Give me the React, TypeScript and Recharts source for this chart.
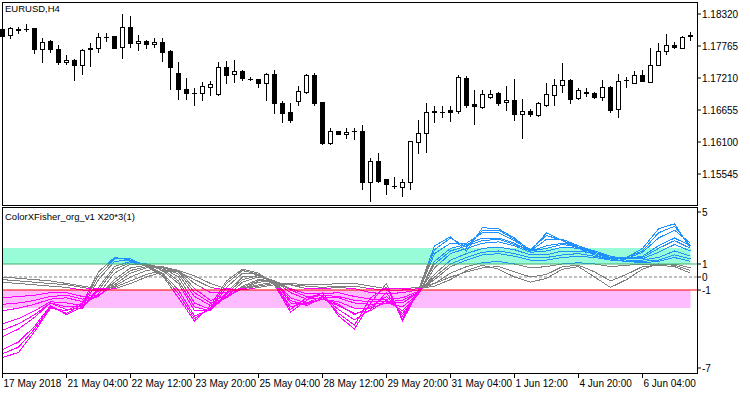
import { ComposedChart, LineChart, Bar, Line, XAxis, YAxis, ReferenceLine, ReferenceArea } from 'recharts';

// EURUSD H4 candles
const opens = [
  1.18060, 1.17956, 1.18051, 1.18060, 1.18077, 1.17713, 1.17852, 1.17713, 1.17488, 1.17522,
  1.17436, 1.17713, 1.17730, 1.17921, 1.17939, 1.17748, 1.18095, 1.17817, 1.17852, 1.17800,
  1.17835, 1.17678, 1.17297, 1.17020, 1.16950, 1.16950, 1.17054, 1.16933, 1.17401, 1.17280,
  1.17332, 1.17201, 1.17193, 1.17124, 1.17280, 1.16777, 1.16621, 1.16812, 1.16968, 1.17262,
  1.16794, 1.16083, 1.16291, 1.16240, 1.16291, 1.16291, 1.15407, 1.15771, 1.15459, 1.15338,
  1.15320, 1.15407, 1.16101, 1.16257, 1.16621, 1.16621, 1.16656, 1.16638, 1.17210, 1.16760,
  1.16708, 1.16881, 1.16950, 1.16794, 1.16829, 1.16586, 1.16638, 1.16569, 1.16742, 1.16916,
  1.17089, 1.17176, 1.16864, 1.16968, 1.16950, 1.16881, 1.17054, 1.16673, 1.17176, 1.17124,
  1.17262, 1.17141, 1.17436, 1.17678, 1.17783, 1.17730, 1.17939,
];
const highs = [
  1.18077, 1.18095, 1.18095, 1.18147, 1.18080, 1.17904, 1.17869, 1.17783, 1.17609, 1.17540,
  1.17713, 1.17817, 1.17991, 1.17991, 1.17945, 1.18320, 1.18285, 1.17956, 1.17869, 1.17904,
  1.17904, 1.17696, 1.17488, 1.17210, 1.17037, 1.17141, 1.17158, 1.17488, 1.17505, 1.17522,
  1.17349, 1.17227, 1.17200, 1.17297, 1.17349, 1.16812, 1.16777, 1.17072, 1.17280, 1.17297,
  1.16800, 1.16344, 1.16295, 1.16344, 1.16344, 1.16396, 1.15823, 1.15910, 1.15465, 1.15494,
  1.15459, 1.16125, 1.16482, 1.16777, 1.16725, 1.16725, 1.16725, 1.17262, 1.17245, 1.17002,
  1.17002, 1.17002, 1.16968, 1.17072, 1.17193, 1.16846, 1.16673, 1.16794, 1.17124, 1.17193,
  1.17470, 1.17193, 1.17037, 1.17037, 1.16968, 1.17176, 1.17072, 1.17280, 1.17227, 1.17332,
  1.17349, 1.17730, 1.17817, 1.17974, 1.17835, 1.17939, 1.18008,
];
const lows = [
  1.17921, 1.17904, 1.17991, 1.18025, 1.17644, 1.17488, 1.17661, 1.17453, 1.17453, 1.17176,
  1.17280, 1.17418, 1.17661, 1.17852, 1.17725, 1.17557, 1.17748, 1.17696, 1.17730, 1.17748,
  1.17505, 1.17020, 1.16846, 1.16846, 1.16742, 1.16829, 1.16916, 1.16916, 1.17124, 1.17141,
  1.17176, 1.17176, 1.17054, 1.16829, 1.16604, 1.16448, 1.16448, 1.16742, 1.16950, 1.16742,
  1.16066, 1.16066, 1.16235, 1.16170, 1.16153, 1.15286, 1.15077, 1.15407, 1.15199, 1.15303,
  1.15164, 1.15286, 1.15910, 1.15927, 1.16448, 1.16534, 1.16465, 1.16604, 1.16708, 1.16413,
  1.16690, 1.16864, 1.16742, 1.16656, 1.16482, 1.16170, 1.16552, 1.16552, 1.16725, 1.16742,
  1.16968, 1.16777, 1.16846, 1.16898, 1.16864, 1.16829, 1.16621, 1.16534, 1.17054, 1.17124,
  1.17158, 1.17141, 1.17436, 1.17626, 1.17730, 1.17730, 1.17869,
];
const closes = [
  1.17939, 1.18077, 1.18060, 1.18055, 1.17713, 1.17835, 1.17713, 1.17488, 1.17522, 1.17436,
  1.17696, 1.17730, 1.17921, 1.17913, 1.17730, 1.18095, 1.17817, 1.17852, 1.17800, 1.17835,
  1.17661, 1.17401, 1.17020, 1.16950, 1.16942, 1.17072, 1.17106, 1.17401, 1.17262, 1.17332,
  1.17210, 1.17193, 1.17124, 1.17280, 1.16777, 1.16604, 1.16482, 1.16985, 1.17262, 1.16777,
  1.16083, 1.16291, 1.16240, 1.16274, 1.16283, 1.15407, 1.15771, 1.15424, 1.15372, 1.15329,
  1.15407, 1.16118, 1.16257, 1.16621, 1.16630, 1.16615, 1.16621, 1.17227, 1.16742, 1.16725,
  1.16933, 1.16933, 1.16777, 1.16829, 1.16586, 1.16638, 1.16586, 1.16777, 1.16933, 1.17089,
  1.17176, 1.16846, 1.17002, 1.16950, 1.16881, 1.17054, 1.16656, 1.17158, 1.17167, 1.17262,
  1.17158, 1.17436, 1.17678, 1.17783, 1.17740, 1.17921, 1.17956,
];

// ColorXFisher fan, one value every second bar (fastest line first)
const fisher1 = [-6.2, -5.8, -4.2, -2.4, -2.6, -2.0, 0.4, 1.5, 1.3, 0.8, 0.1, -1.6, -3.4, -2.2, -0.3, 0.6, 0.3, -0.6, -2.7, -1.8, -1.2, -3.0, -4.0, -2.0, -0.5, -3.4, -1.0, 2.4, 3.1, 2.0, 3.8, 3.7, 3.0, 2.0, 3.4, 2.8, 2.2, 1.7, 1.3, 1.5, 2.2, 3.7, 4.1, 2.2];
const fisher2 = [-5.9, -5.4, -4.0, -2.3, -2.8, -2.1, 0.1, 1.4, 1.4, 0.8, 0.2, -1.3, -3.2, -2.4, -0.5, 0.5, 0.2, -0.5, -2.5, -1.6, -1.4, -2.8, -3.7, -1.6, -0.8, -3.2, -1.1, 2.1, 3.0, 2.3, 3.6, 3.6, 2.9, 2.1, 3.2, 2.8, 2.3, 1.8, 1.4, 1.5, 2.0, 3.4, 3.9, 2.4];
const fisher3 = [-5.6, -5.0, -3.8, -2.2, -2.9, -2.3, -0.2, 1.2, 1.3, 0.9, 0.3, -1.0, -3.0, -2.5, -0.8, 0.3, 0.2, -0.4, -2.3, -2.0, -1.5, -2.5, -3.3, -2.5, -1.2, -3.0, -1.2, 1.8, 2.6, 2.6, 3.4, 3.4, 2.8, 2.0, 2.9, 2.9, 2.4, 1.9, 1.5, 1.4, 1.9, 3.0, 3.6, 2.6];
const fisher4 = [-4.6, -4.0, -3.1, -2.0, -2.5, -2.4, -0.8, 0.8, 1.2, 1.0, 0.5, -0.5, -2.6, -2.6, -1.2, 0.0, 0.1, -0.3, -2.0, -2.1, -1.7, -2.2, -2.8, -2.6, -1.8, -2.6, -1.3, 1.2, 2.2, 2.5, 3.0, 3.0, 2.6, 2.0, 2.4, 2.6, 2.4, 2.0, 1.6, 1.4, 1.6, 2.4, 3.0, 2.4];
const fisher5 = [-4.1, -3.6, -2.9, -2.0, -2.3, -2.3, -1.0, 0.6, 1.1, 1.0, 0.6, -0.3, -2.3, -2.6, -1.3, -0.2, 0.1, -0.3, -1.8, -2.2, -1.6, -2.1, -2.9, -2.3, -1.5, -2.8, -1.3, 1.0, 2.0, 2.4, 2.8, 2.9, 2.5, 2.0, 2.2, 2.5, 2.3, 1.9, 1.6, 1.4, 1.5, 2.2, 2.8, 2.2];
const fisher6 = [-3.6, -3.2, -2.6, -1.9, -2.0, -2.2, -1.3, 0.3, 1.0, 1.0, 0.7, 0.0, -2.0, -2.5, -1.5, -0.4, 0.0, -0.3, -1.6, -2.0, -1.7, -1.9, -2.4, -2.4, -2.0, -2.3, -1.3, 0.7, 1.8, 2.2, 2.6, 2.7, 2.4, 1.9, 2.0, 2.3, 2.2, 1.9, 1.6, 1.4, 1.4, 1.9, 2.5, 2.0];
const fisher7 = [-2.6, -2.4, -2.1, -1.7, -1.6, -1.9, -1.5, -0.2, 0.7, 0.9, 0.8, 0.2, -1.5, -2.2, -1.6, -0.7, -0.2, -0.3, -1.2, -1.7, -1.6, -1.6, -2.0, -2.1, -2.0, -2.0, -1.2, 0.2, 1.3, 1.8, 2.2, 2.3, 2.1, 1.7, 1.7, 2.0, 2.0, 1.8, 1.5, 1.3, 1.3, 1.5, 2.0, 1.6];
const fisher8 = [-2.1, -2.0, -1.8, -1.5, -1.4, -1.7, -1.5, -0.4, 0.5, 0.8, 0.8, 0.4, -1.2, -2.0, -1.6, -0.8, -0.3, -0.3, -1.0, -1.5, -1.4, -1.5, -1.8, -1.9, -1.9, -1.8, -1.2, 0.0, 1.0, 1.5, 1.9, 2.0, 1.8, 1.5, 1.5, 1.7, 1.8, 1.6, 1.4, 1.2, 1.2, 1.3, 1.7, 1.4];
const fisher9 = [-1.6, -1.5, -1.4, -1.2, -1.2, -1.5, -1.4, -0.6, 0.3, 0.7, 0.8, 0.5, -0.9, -1.8, -1.5, -0.9, -0.4, -0.3, -0.9, -1.3, -1.3, -1.2, -1.5, -1.7, -1.7, -1.6, -1.1, -0.2, 0.8, 1.3, 1.7, 1.8, 1.6, 1.3, 1.3, 1.5, 1.6, 1.5, 1.3, 1.2, 1.1, 1.2, 1.5, 1.2];
const fisher10 = [-0.4, -0.5, -0.6, -0.7, -0.8, -1.0, -1.1, -0.7, 0.0, 0.5, 0.7, 0.5, -0.5, -1.2, -1.2, -0.9, -0.6, -0.4, -0.6, -0.9, -0.9, -0.8, -0.9, -1.2, -1.3, -1.2, -1.0, -0.5, 0.3, 0.8, 1.1, 1.2, 1.0, 0.7, 0.8, 1.0, 1.1, 1.0, 0.8, 0.9, 1.0, 1.0, 1.0, 0.7];
const fisher11 = [-0.2, -0.3, -0.4, -0.5, -0.6, -0.8, -1.0, -0.9, -0.5, 0.0, 0.4, 0.5, 0.1, -0.5, -0.9, -1.0, -0.8, -0.6, -0.6, -0.7, -0.8, -0.7, -0.7, -0.9, -1.0, -1.0, -0.9, -0.7, -0.2, 0.5, 0.9, 0.6, 0.0, -0.4, -0.1, 0.6, 0.8, 0.0, -0.8, -0.2, 0.6, 1.0, 0.9, 0.5];
const fisher12 = [0.0, -0.1, -0.2, -0.3, -0.5, -0.7, -0.9, -0.8, -0.3, 0.2, 0.5, 0.4, -0.2, -0.8, -1.0, -0.9, -0.7, -0.5, -0.5, -0.6, -0.6, -0.5, -0.5, -0.7, -0.9, -0.9, -0.8, -0.5, 0.0, 0.4, 0.7, 0.8, 0.4, 0.0, 0.2, 0.8, 0.9, 0.4, -0.3, 0.2, 0.8, 0.9, 0.8, 0.3];

const timeTicks = [0, 8, 16, 24, 32, 40, 48, 56, 64, 72, 80];
const timeLabels = ['17 May 2018', '21 May 04:00', '22 May 12:00', '23 May 20:00', '25 May 04:00', '28 May 12:00', '29 May 20:00', '31 May 04:00', '1 Jun 12:00', '4 Jun 20:00', '6 Jun 04:00'];
const priceTicks = [1.15545, 1.161, 1.16655, 1.1721, 1.17765, 1.1832];
const levelTicks = [-7, -1, 0, 1, 5];
const upperBand = [1, 2.23];
const lowerBand = [-1, -2.38];

const FONT = '"Liberation Sans", Arial, sans-serif';
const X_DOMAIN: [number, number] = [-0.0625, 86.8125];
const PRICE_DOMAIN: [number, number] = [1.15008, 1.18528];
const LEVEL_DOMAIN: [number, number] = [-7.385, 5.385];
const SUB_TOP = 207;
const SUB_BOTTOM = 373;
const BLUE_LEVEL = 1.0;
const PINK_LEVEL = -0.85;

const candles = opens.map((open, i) => ({ i, open, high: highs[i], low: lows[i], close: closes[i] }));

const fisherSeries = [fisher1, fisher2, fisher3, fisher4, fisher5, fisher6, fisher7, fisher8, fisher9, fisher10, fisher11, fisher12];
const fisherData = fisher1.map((_, k) => {
    const row: Record<string, number> = { i: k * 2 };
    fisherSeries.forEach((s, n) => { row[`f${n}`] = s[k]; });
    return row;
});

const levelY = (v: number) =>
    SUB_TOP + ((LEVEL_DOMAIN[1] - v) / (LEVEL_DOMAIN[1] - LEVEL_DOMAIN[0])) * (SUB_BOTTOM - SUB_TOP);

function renderCandle(props: any) {
    const { x, y, width, height, payload } = props;
    if (!payload) return <g />;
    const { open, close, high, low } = payload;
    const yHigh = height >= 0 ? y : y + height;
    const yLow = height >= 0 ? y + height : y;
    const toY = (p: number) => yHigh + ((high - p) / (high - low)) * (yLow - yHigh);
    const cx = Math.floor(x + width / 2) + 0.5;
    const top = Math.round(toY(Math.max(open, close))) + 0.5;
    const bottom = Math.round(toY(Math.min(open, close))) + 0.5;
    const bull = close >= open;
    return (
        <g>
            <line x1={cx} x2={cx} y1={Math.round(yHigh)} y2={Math.round(yLow) + 1} stroke="#000" strokeWidth={1} />
            {bottom - top < 1 ? (
                <line x1={cx - 2.5} x2={cx + 2.5} y1={top} y2={top} stroke="#000" strokeWidth={1} />
            ) : (
                <rect x={cx - 2} y={top} width={4} height={bottom - top} fill={bull ? '#fff' : '#000'} stroke="#000" strokeWidth={1} />
            )}
        </g>
    );
}

function TimeTick(props: any) {
    const { x, y, payload } = props;
    const label = timeLabels[timeTicks.indexOf(payload.value)];
    return (
        <text x={x + 1} y={y} dy="0.71em" fontSize={10} fontFamily={FONT} fill="#000">
            {label}
        </text>
    );
}

export default function App() {
    const blueStop = levelY(BLUE_LEVEL) / 394;
    const pinkStop = levelY(PINK_LEVEL) / 394;
    const axisTick = { fontSize: 10, fill: '#000', fontFamily: FONT };

    return (
        <div style={{ position: 'fixed', left: 0, top: 0, width: 750, height: 394, background: '#fff', fontFamily: FONT }}>
            <div style={{ position: 'absolute', left: 0, top: 0 }}>
                <ComposedChart width={750} height={206} data={candles} margin={{ top: 2, right: 3, left: 2, bottom: 1 }}>
                    <XAxis dataKey="i" type="number" domain={X_DOMAIN} hide />
                    <YAxis
                        orientation="right"
                        domain={PRICE_DOMAIN}
                        ticks={priceTicks}
                        interval={0}
                        width={50}
                        tickSize={4}
                        tickMargin={1}
                        axisLine={false}
                        tickLine={{ stroke: '#000' }}
                        tick={axisTick}
                        tickFormatter={(v: number) => v.toFixed(5)}
                    />
                    <Bar dataKey={(d: any) => [d.low, d.high]} barSize={7} shape={renderCandle} isAnimationActive={false} />
                </ComposedChart>
            </div>

            <div style={{ position: 'absolute', left: 0, top: 0 }}>
                <LineChart width={750} height={394} data={fisherData} margin={{ top: SUB_TOP, right: 3, left: 2, bottom: 0 }}>
                    <defs>
                        <linearGradient id="fisherColor" gradientUnits="userSpaceOnUse" x1={0} y1={0} x2={0} y2={394}>
                            <stop offset={0} stopColor="#1E90FF" />
                            <stop offset={blueStop} stopColor="#1E90FF" />
                            <stop offset={blueStop} stopColor="#808080" />
                            <stop offset={pinkStop} stopColor="#808080" />
                            <stop offset={pinkStop} stopColor="#FF00FF" />
                            <stop offset={1} stopColor="#FF00FF" />
                        </linearGradient>
                    </defs>
                    <XAxis
                        dataKey="i"
                        type="number"
                        domain={X_DOMAIN}
                        ticks={timeTicks}
                        interval={0}
                        height={21}
                        tickSize={5}
                        tickMargin={2}
                        axisLine={false}
                        tickLine={{ stroke: '#000' }}
                        tick={<TimeTick />}
                    />
                    <YAxis
                        orientation="right"
                        domain={LEVEL_DOMAIN}
                        ticks={levelTicks}
                        interval={0}
                        width={50}
                        tickSize={4}
                        tickMargin={1}
                        axisLine={false}
                        tickLine={{ stroke: '#000' }}
                        tick={axisTick}
                    />
                    <ReferenceArea x1={X_DOMAIN[0]} x2={86} y1={upperBand[0]} y2={upperBand[1]} fill="#98FCD8" fillOpacity={1} stroke="none" />
                    <ReferenceArea x1={X_DOMAIN[0]} x2={86} y1={lowerBand[0]} y2={lowerBand[1]} fill="#FFBBFF" fillOpacity={1} stroke="none" />
                    <ReferenceLine y={0} stroke="#808080" strokeDasharray="3 2" />
                    {fisherSeries.map((_, n) => (
                        <Line
                            key={n}
                            dataKey={`f${n}`}
                            type="linear"
                            stroke="url(#fisherColor)"
                            strokeWidth={1}
                            dot={false}
                            shapeRendering="crispEdges"
                            isAnimationActive={false}
                        />
                    ))}
                    <ReferenceLine y={1} stroke="#3CB371" />
                    <ReferenceLine y={-1} stroke="#FF0000" />
                </LineChart>
            </div>

            {/* panel frames */}
            <div style={{ position: 'absolute', left: 2, top: 2, width: 696, height: 204, border: '1px solid #000', boxSizing: 'border-box', pointerEvents: 'none' }} />
            <div style={{ position: 'absolute', left: 2, top: SUB_TOP, width: 696, height: SUB_BOTTOM - SUB_TOP + 1, border: '1px solid #000', boxSizing: 'border-box', pointerEvents: 'none' }} />

            <div style={{ position: 'absolute', left: 5, top: 3, fontSize: 9.5, lineHeight: '12px', color: '#000' }}>EURUSD,H4</div>
            <div style={{ position: 'absolute', left: 5, top: 211, fontSize: 9.5, lineHeight: '12px', color: '#000' }}>ColorXFisher_org_v1 X20*3(1)</div>
        </div>
    );
}
